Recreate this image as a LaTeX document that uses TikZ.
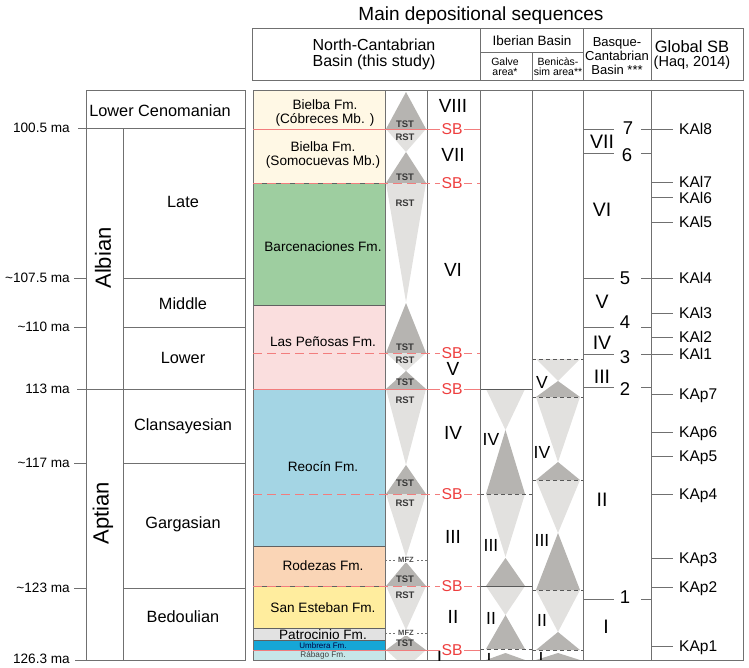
\documentclass[tikz,border=0pt]{standalone}
\usepackage{fontspec}
\setmainfont{Liberation Sans}
\definecolor{tstgray}{RGB}{182,180,177}
\definecolor{rstgray}{RGB}{226,225,223}
\definecolor{sbred}{RGB}{238,62,62}
\definecolor{sbline}{RGB}{242,125,125}
\definecolor{framegray}{RGB}{112,112,112}
\definecolor{cream}{RGB}{255,248,229}
\definecolor{barcgreen}{RGB}{158,206,160}
\definecolor{penpink}{RGB}{250,222,222}
\definecolor{reoblue}{RGB}{164,213,228}
\definecolor{rodorange}{RGB}{250,213,182}
\definecolor{sanyellow}{RGB}{255,237,158}
\definecolor{patgray}{RGB}{226,226,226}
\definecolor{umbblue}{RGB}{22,166,214}
\definecolor{rabcyan}{RGB}{198,230,232}
\newcommand{\fsz}[2]{\fontsize{#1}{#2}\selectfont}
\tikzstyle{frame}=[draw=framegray, line width=0.8pt]
\tikzstyle{fmbox}=[draw=black!62, line width=0.8pt]
\tikzstyle{fmlab}=[align=center, font=\fsz{13.6}{14.4}, inner sep=0pt]
\tikzstyle{tst}=[fill=tstgray]
\tikzstyle{rst}=[fill=rstgray]
\tikzstyle{tract}=[font=\bfseries\fsz{9.5}{10}, text=black!78, inner sep=0pt]
\tikzstyle{mfzlab}=[font=\bfseries\fsz{7.6}{8}, text=black!70, fill=white, inner xsep=1pt, inner ysep=0pt]
\tikzstyle{sblab}=[font=\fsz{15.7}{16}, text=sbred, fill=white, inner xsep=1.5pt, inner ysep=0pt]
\tikzstyle{sbsolid}=[draw=sbline, line width=0.8pt]
\tikzstyle{sbdash}=[draw=sbline, line width=0.8pt, dash pattern=on 9pt off 5pt]
\tikzstyle{iberdash}=[draw=black!65, line width=0.8pt, dash pattern=on 4pt off 3pt]
\tikzstyle{seqnum}=[font=\fsz{19}{19}, inner sep=0pt]
\tikzstyle{ibnum}=[font=\fsz{17.5}{18}, inner sep=0pt]
\tikzstyle{basrom}=[font=\fsz{19.5}{20}, inner sep=0pt]
\tikzstyle{basnum}=[font=\fsz{18.5}{19}, inner sep=0pt]
\tikzstyle{agelab}=[font=\fsz{13.6}{14}, anchor=east, inner sep=0pt]
\tikzstyle{stagelab}=[font=\fsz{16.3}{17}, inner sep=0pt]
\tikzstyle{gsb}=[font=\fsz{15.5}{16}, anchor=west, inner sep=0pt, text depth=0pt]
\newcommand{\fm}{\node[fmlab]}

\begin{document}
\begin{tikzpicture}[x=1pt, y=-1pt]
\useasboundingbox (0,0) rectangle (749,667);
% heading
\node (title) at (481,16) {\fsz{19}{20}Main depositional sequences};
\draw[frame] (252,28) rectangle (743,80);
\draw[frame] (480,28) -- (480,80) (583,28) -- (583,80) (651,28) -- (651,80)
  (480,52) -- (583,52) (532,52) -- (532,80);
\node[align=center, font=\fsz{16}{15.5}] (hnc) at (374,54.5) {North-Cantabrian\\Basin (this study)};
\node[font=\fsz{13.5}{14}] (hib) at (532,41) {Iberian Basin};
\node[align=center, font=\fsz{10.5}{10}] (hgal) at (505,66.5) {Galve\\area*};
\node[align=center, font=\fsz{10.5}{10}] (hben) at (558,66.5) {Benicàs-\\sim area**};
\node[align=center, font=\fsz{13}{13.7}] (hbc) at (617,56) {Basque-\\Cantabrian\\Basin ***};
\node[font=\fsz{16.5}{17}] (hgsb) at (692,47) {Global SB};
\node[font=\fsz{14.5}{15}] (hhaq) at (692,63) {(Haq, 2014)};

% chronostratigraphy
\draw[frame] (86,90) rectangle (245,660);
\draw[frame] (78,128) -- (245,128) (123,128) -- (123,660)
  (77,389) -- (245,389) (75,660) -- (245,660);
\foreach \y in {278,327,463,588}
  \draw[frame] (74,\y) -- (86,\y) (123,\y) -- (245,\y);
\foreach \t/\y [count=\i] in {100.5 ma/128, \textasciitilde107.5 ma/278, \textasciitilde110 ma/327,
    113 ma/389, \textasciitilde117 ma/463, \textasciitilde123 ma/588, 126.3 ma/659}
  \node[agelab] (age\i) at (70,\y) {\t};
\node[font=\fsz{16.3}{17}] (cen) at (160,111) {Lower Cenomanian};
\node[rotate=90, font=\fsz{22}{22}] (alb) at (103,258) {Albian};
\node[rotate=90, font=\fsz{22}{22}] (apt) at (103,513) {Aptian};
\foreach \t/\y [count=\i] in {Late/202, Middle/304, Lower/358, Clansayesian/426, Gargasian/524, Bedoulian/617}
  \node[stagelab] (st\i) at (183,\y) {\t};

% formations
\foreach \t/\b/\c in {90/129/cream, 129/183/cream, 183/305/barcgreen, 305/389/penpink,
    389/546/reoblue, 546/586/rodorange, 586/628/sanyellow, 628/640/patgray, 640/650/umbblue, 650/660/rabcyan}
  \filldraw[fmbox, fill=\c] (253,\t) rectangle (385,\b);
\fm (fcob) at (325,113) {Bielba Fm.\\(Cóbreces Mb. )};
\fm (fsom) at (323,155) {Bielba Fm.\\(Somocuevas Mb.)};
\fm (fbar) at (323,247) {Barcenaciones Fm.};
\fm (fpen) at (323,342) {Las Peñosas Fm.};
\fm (freo) at (323,467) {Reocín Fm.};
\fm (frod) at (323,566) {Rodezas Fm.};
\fm (fsan) at (323,608) {San Esteban Fm.};
\fm (fpat) at (323,635) {Patrocinio Fm.};
\node[font=\fsz{8}{8}, text=black!75!blue, inner sep=0pt] (fumb) at (323,645.5) {Umbrera Fm.};
\node[font=\fsz{8.2}{8.2}, text=black!75, inner sep=0pt] (frab) at (323,655.5) {Rábago Fm.};

\begin{scope}
\clip (253,90) rectangle (743,660);
% systems tracts
\foreach \b/\a in {129/92,183/152,353/303,389/371,494/465,586/562,650/635}
  \fill[tst] (386,\b) -- (426,\b) -- (406,\a) -- cycle;
\foreach \b/\a in {129/152,183/302,353/371,389/465,494/557,586/630,650/668}
  \fill[rst] (386,\b) -- (426,\b) -- (406,\a) -- cycle;
% Galve
\foreach \b/\a in {389/430,494/557,586/615}
  \fill[rst] (486,\b) -- (525,\b) -- (505.5,\a) -- cycle;
\foreach \b/\a in {494/430,586/558,649/615,660/653}
  \fill[tst] (486,\b) -- (525,\b) -- (505.5,\a) -- cycle;
% Benicassim
\foreach \b/\a in {359/381,397/462,480/533,590/632}
  \fill[rst] (536,\b) -- (580,\b) -- (558,\a) -- cycle;
\foreach \b/\a in {397/381,480/462,590/533,650/632,660/653}
  \fill[tst] (536,\b) -- (580,\b) -- (558,\a) -- cycle;
\draw[frame, draw=black!65] (480,389) -- (532,389) (480,586) -- (532,586);
\foreach \y in {494,649} \draw[iberdash] (480,\y) -- (532,\y);
\foreach \y in {359,397,480,590,650} \draw[iberdash] (532,\y) -- (583,\y);
\foreach \t/\y [count=\i] in {IV/439, III/545, II/618}
  \node[ibnum] (gal\i) at (491,\y) {\t};
\foreach \t/\y [count=\i] in {V/382, IV/452, III/540, II/620}
  \node[ibnum] (ben\i) at (542,\y) {\t};
\node[ibnum, anchor=north] (gal4) at (489,653) {I};
\node[ibnum, anchor=north] (ben5) at (541,652) {I};
\end{scope}

% frame of the columns
\draw[frame] (253,90) rectangle (743,660);
\foreach \x in {385,427,480,532,583,651} \draw[frame] (\x,90) -- (\x,660);

% maximum flooding zones
\foreach \y [count=\i] in {560,633} {
  \draw[draw=black!55, line width=0.7pt, dash pattern=on 2pt off 2pt] (385,\y) -- (427,\y);
  \node[mfzlab] (mfz\i) at (406,\y) {MFZ};
}
% sequence boundaries
\foreach \y in {129,389,650} \draw[sbsolid] (253,\y) -- (480,\y);
\foreach \y in {183,353,494,586} \draw[sbdash] (253,\y) -- (480,\y);
\foreach \y [count=\i] in {129,183,353,389,494,586,650}
  \node[sblab] (sb\i) at (452,\y) {SB};
\foreach \y [count=\i] in {124,177,347,382,483,579,643}
  \node[tract] (tst\i) at (405,\y) {TST};
\foreach \y [count=\i] in {137,203,360,400,503,595}
  \node[tract] (rst\i) at (405,\y) {RST};
\foreach \t/\y [count=\i] in {VIII/106,VII/155,VI/270,V/369,IV/433,III/537,II/617}
  \node[seqnum] (sq\i) at (453,\y) {\t};
\begin{scope}
\clip (427,90) rectangle (480,660);
\node[seqnum, anchor=north] (sq8) at (439.5,651.5) {I};
\end{scope}

% Basque-Cantabrian Basin
\foreach \y in {129,153,278,327,354,387,599}
  \draw[frame] (583,\y) -- (614,\y) (641,\y) -- (651,\y);
\foreach \t/\x/\y [count=\i] in {7/628/128, 6/627/155, 5/625/278, 4/625/322, 3/625/357, 2/625/389, 1/625/597}
  \node[basnum] (bd\i) at (\x,\y) {\t};
\foreach \t/\x/\y [count=\i] in {VII/602/142, VI/602/210, V/602/302, IV/602/343, III/602/377, II/602/500, I/606/627}
  \node[basrom] (br\i) at (\x,\y) {\t};

% global sequence boundaries
\foreach \t/\y [count=\i] in {KAl8/129, KAl7/182, KAl6/197.5, KAl5/222, KAl4/278, KAl3/313, KAl2/337, KAl1/354,
    KAp7/394, KAp6/432, KAp5/456, KAp4/494, KAp3/558, KAp2/587, KAp1/646} {
  \node[gsb] (ka\i) at (679,\y) {\t};
  \draw[frame] (651,\y) -- (ka\i.west) [shorten >=6pt];
}
\end{tikzpicture}
\end{document}
